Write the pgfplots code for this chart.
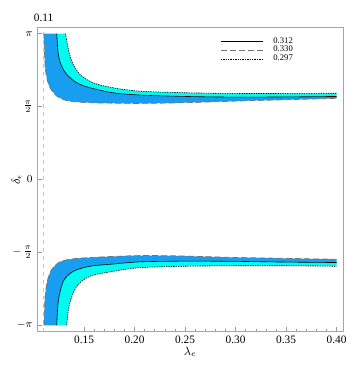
\documentclass[border=0pt]{standalone}
\usepackage{fontspec}
\setmainfont{Liberation Serif}
\usepackage{pgfplots}
\pgfplotsset{compat=1.18}
\usepgfplotslibrary{fillbetween}

\definecolor{bandblue}{RGB}{24,158,240}
\definecolor{bandcyan}{RGB}{0,252,240}

\begin{document}
\begin{tikzpicture}
\begin{axis}[
    set layers,
    clip mode=individual,
    scale only axis,
    width=229.3pt, height=228.3pt,
    xmin=0.1038, xmax=0.4063,
    ymin=-3.28, ymax=3.28,
    axis line style={gray!70, line width=0.5pt},
    tick style={gray!80, line width=0.4pt},
    tick align=inside,
    xtick pos=bottom, ytick pos=left,
    xtick={0.15,0.20,0.25,0.30,0.35,0.40},
    minor x tick num=4,
    major tick length=3.5pt, minor tick length=2pt,
    ytick={-3.14159,-1.5708,0,1.5708,3.14159},
    yticklabels={$-\pi$,$-\,\frac{\pi}{2}$,$0$,$\frac{\pi}{2}$,$\pi$},
    tick label style={font=\fontsize{8.5}{10}\selectfont},
    xticklabel style={/pgf/number format/fixed, /pgf/number format/fixed zerofill,
        /pgf/number format/precision=2, /pgf/number format/assume math mode=true},
    xlabel={$\lambda_e$},
    ylabel={$\delta_\epsilon$},
    label style={font=\fontsize{9}{10}\selectfont},
    x label style={at={(axis description cs:0.5,-0.066)}, anchor=center},
    y label style={at={(axis description cs:-0.068,0.5)}, anchor=center},
    legend style={at={(0.585,0.982)}, anchor=north west, draw=none, fill=none,
        font=\fontsize{6.5}{7}\selectfont, row sep=-1.6pt, column sep=6pt,
        nodes={inner sep=1.2pt}},
    legend cell align=left,
    legend image code/.code={\draw[#1] (0pt,0pt) -- (32pt,0pt);},
]

% reference line at 0.11
\addplot[gray!45, dashed, line width=0.6pt, forget plot] coordinates {(0.11,-3.28) (0.11,3.28)};

% upper branch
\addplot[black, line width=0.45pt, smooth, name path=su] coordinates {
    (0.1230,3.1416) (0.1246,2.695) (0.1279,2.443) (0.1329,2.264) (0.1428,2.085)
    (0.1559,1.977) (0.1787,1.870) (0.2054,1.820) (0.25,1.790) (0.30,1.775)
    (0.35,1.780) (0.40,1.790)};
\addlegendentry{0.312}
\addplot[black!55, dash pattern=on 4.5pt off 2.2pt, line width=0.55pt, smooth, name path=du] coordinates {
    (0.1104,3.1416) (0.1114,2.48) (0.1131,2.20) (0.1163,1.98) (0.1230,1.80)
    (0.1329,1.70) (0.146,1.667) (0.16,1.652) (0.18,1.645) (0.205,1.64)
    (0.25,1.655) (0.30,1.69) (0.35,1.72) (0.40,1.75)};
\addlegendentry{0.330}
\addplot[black, dash pattern=on 1pt off 0.8pt, line width=0.45pt, smooth, name path=pu] coordinates {
    (0.1319,3.1416) (0.1335,2.911) (0.1378,2.551) (0.1460,2.264) (0.1592,2.085)
    (0.1787,1.977) (0.2054,1.904) (0.25,1.870) (0.30,1.855) (0.35,1.855) (0.40,1.860)};
\addlegendentry{0.297}

% lower branch
\addplot[black, line width=0.45pt, smooth, name path=sl, forget plot] coordinates {
    (0.1230,-3.1416) (0.1246,-2.62) (0.1296,-2.19) (0.1394,-1.98) (0.1559,-1.87)
    (0.18,-1.82) (0.2054,-1.775) (0.25,-1.76) (0.30,-1.765) (0.35,-1.78) (0.40,-1.79)};
\addplot[black!55, dash pattern=on 4.5pt off 2.2pt, line width=0.55pt, smooth, name path=dl, forget plot] coordinates {
    (0.1104,-3.1416) (0.1114,-2.55) (0.1137,-2.19) (0.1180,-1.94) (0.1262,-1.775)
    (0.1394,-1.71) (0.1625,-1.675) (0.2054,-1.64) (0.25,-1.65) (0.30,-1.68)
    (0.35,-1.70) (0.40,-1.72)};
\addplot[black, dash pattern=on 1pt off 0.8pt, line width=0.45pt, smooth, name path=pl, forget plot] coordinates {
    (0.1329,-3.1416) (0.1355,-2.695) (0.1428,-2.30) (0.1559,-2.085) (0.1787,-1.98)
    (0.2054,-1.90) (0.25,-1.87) (0.30,-1.86) (0.35,-1.86) (0.40,-1.87)};

% bands
\addplot[bandblue, forget plot] fill between[of=du and su];
\addplot[bandcyan, forget plot] fill between[of=su and pu];
\addplot[bandblue, forget plot] fill between[of=dl and sl];
\addplot[bandcyan, forget plot] fill between[of=sl and pl];

\node[font=\fontsize{8.5}{10}\selectfont, anchor=center, yshift=7pt] at (axis cs:0.11,3.28) {0.11};
\end{axis}
% keep the page the size of the reference
\pgfresetboundingbox
\path[use as bounding box] (-28pt,-26.5pt) rectangle (231.5pt,248.8pt);
\end{tikzpicture}
\end{document}
